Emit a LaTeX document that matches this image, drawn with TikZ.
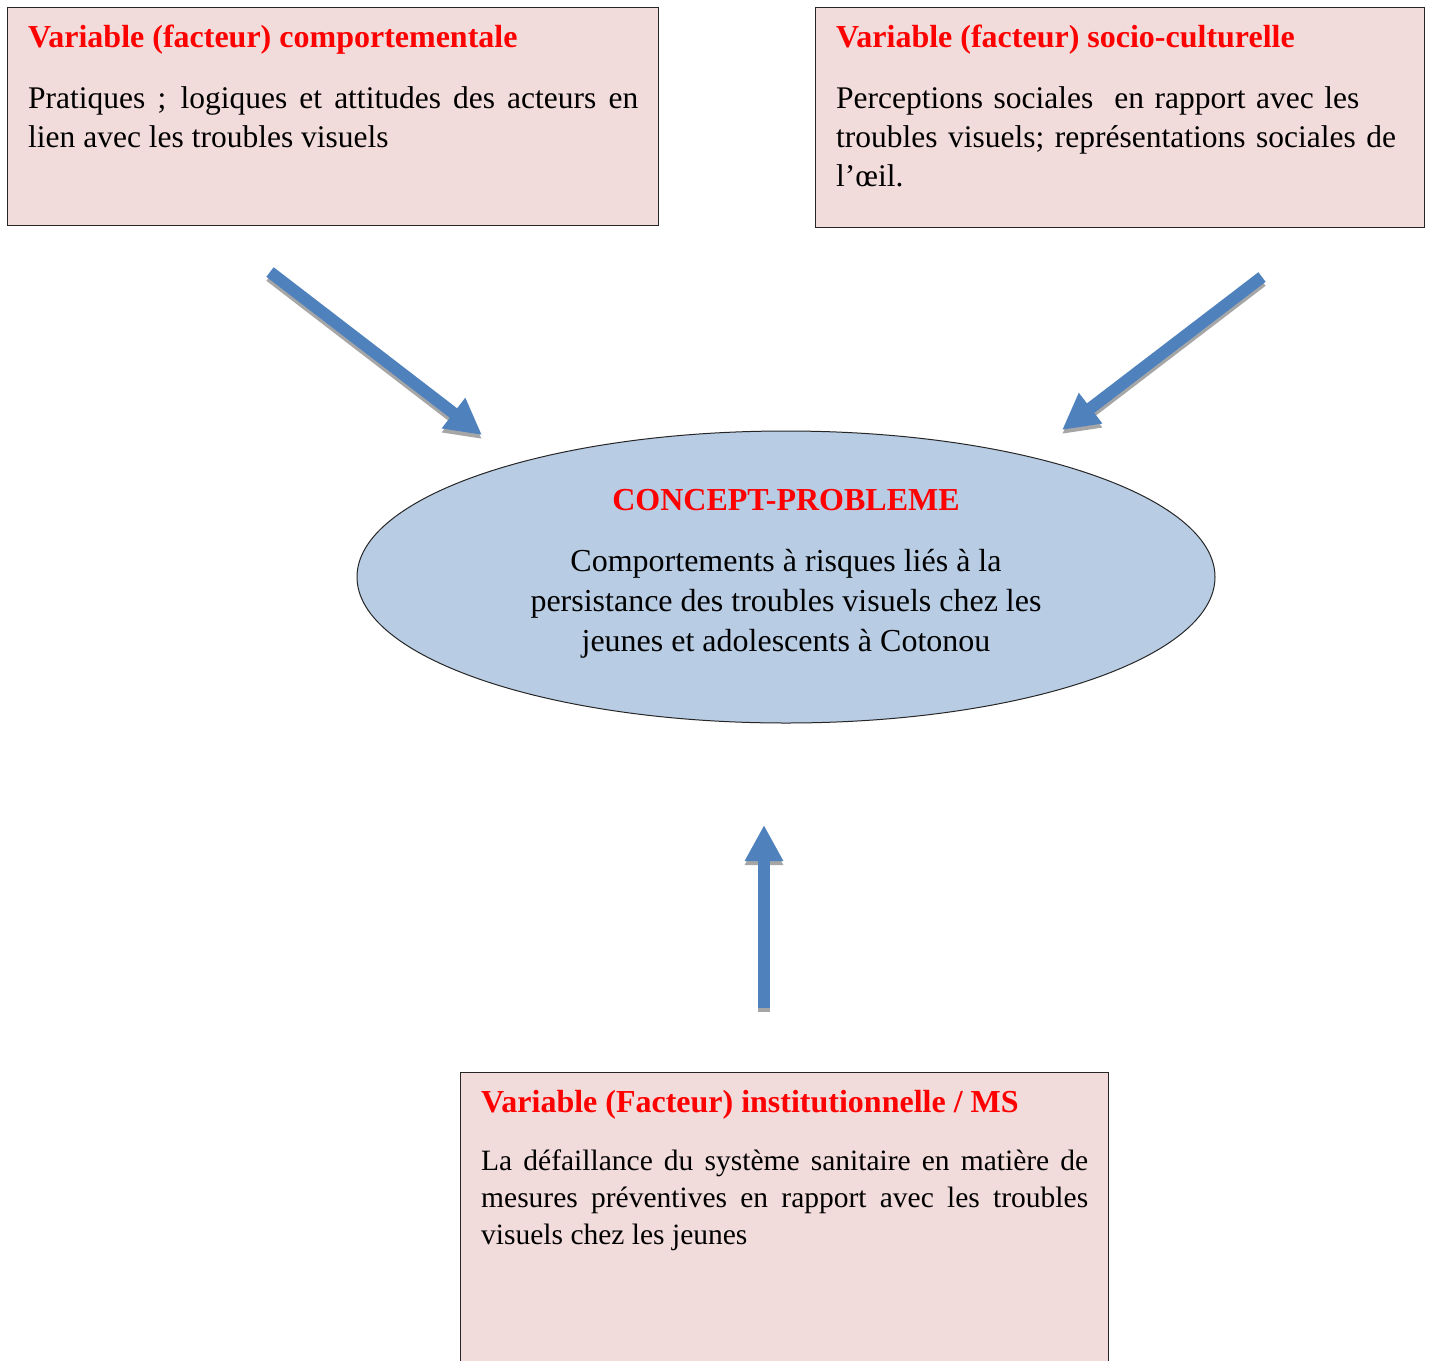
\documentclass[tikz,border=0pt]{standalone}
\usepackage{fontspec}
\setmainfont{Liberation Serif}
\usetikzlibrary{arrows.meta,shapes.geometric}
\definecolor{boxpink}{HTML}{F2DBDB}
\definecolor{ellblue}{HTML}{B8CCE4}
\definecolor{arrblue}{HTML}{4F81BD}
\definecolor{titlered}{HTML}{FF0000}
\definecolor{shadowgray}{HTML}{A6A6A6}
\begin{document}
\begin{tikzpicture}[x=1pt,y=-1pt,
  factorbox/.style={draw=black!85, fill=boxpink, line width=1pt, rectangle, inner sep=0pt, anchor=north west},
  titletext/.style={anchor=base west, inner sep=0pt, text=titlered, font=\fontsize{32}{38}\selectfont\bfseries},
  bodytext/.style={anchor=north west, inner sep=0pt, font=\fontsize{31.5}{39}\selectfont},
  bigarrow/.style={line width=12pt, arrblue, -{Triangle[width=36pt,length=36pt]}},
  arrowshadow/.style={line width=12pt, shadowgray, -{Triangle[width=36pt,length=36pt]}}
]
\useasboundingbox (0,0) rectangle (1432,1360);

% boxes
\node[factorbox, minimum width=651pt, minimum height=218pt] (comp) at (7,7) {};
\node[factorbox, minimum width=609pt, minimum height=220pt] (socio) at (815,7) {};
\node[factorbox, minimum width=648pt, minimum height=300pt] (inst) at (460,1072) {};

% box texts
\node[titletext] (compT) at (28,47) {Variable (facteur) comportementale};
\node[bodytext, text width=610pt, align=justify] (compB) at (28,84) {\rule{0pt}{24pt}Pratiques ; logiques et attitudes des acteurs en\linebreak lien avec les troubles visuels};

\node[titletext] (socioT) at (836,47) {Variable (facteur) socio-culturelle};
\node[bodytext, text width=580pt, align=left] (socioB) at (836,84) {\rule{0pt}{24pt}Perceptions sociales\ \ en rapport avec les\\troubles visuels; représentations sociales de\\l’œil.};

\node[titletext] (instT) at (481,1112) {Variable (Facteur) institutionnelle / MS};
\node[bodytext, text width=607pt, align=justify, font=\fontsize{29.5}{37}\selectfont] (instB) at (481,1147) {\rule{0pt}{23pt}La défaillance du système sanitaire en matière de\linebreak mesures préventives en rapport avec les troubles\linebreak visuels chez les jeunes};

% ellipse
\node[ellipse, draw=black!85, line width=1pt, fill=ellblue, minimum width=858pt, minimum height=292pt, inner sep=0pt] (concept) at (786,577) {};
\node[anchor=base, inner sep=0pt, text=titlered, font=\fontsize{32}{38}\selectfont\bfseries] (conceptT) at (786,510) {CONCEPT-PROBLEME};
\node[anchor=north, inner sep=0pt, align=center, font=\fontsize{32}{40}\selectfont] (conceptB) at (786,546) {\rule{0pt}{25pt}Comportements à risques liés à la\\persistance des troubles visuels chez les\\jeunes et adolescents à Cotonou};

% arrows
\coordinate (a1s) at (270,272);
\coordinate (a1e) at (482,435);
\coordinate (a2s) at (1262,277);
\coordinate (a2e) at (1062,430);
\coordinate (a3s) at (764,1008);
\coordinate (a3e) at (764,825);

\draw[arrowshadow] ([yshift=-4pt]a1s) -- ([yshift=-4pt]a1e);
\draw[arrowshadow] ([yshift=-4pt]a2s) -- ([yshift=-4pt]a2e);
\draw[arrowshadow] ([yshift=-4pt]a3s) -- ([yshift=-4pt]a3e);
\draw[bigarrow] (a1s) -- (a1e);
\draw[bigarrow] (a2s) -- (a2e);
\draw[bigarrow] (a3s) -- (a3e);
\end{tikzpicture}
\end{document}
